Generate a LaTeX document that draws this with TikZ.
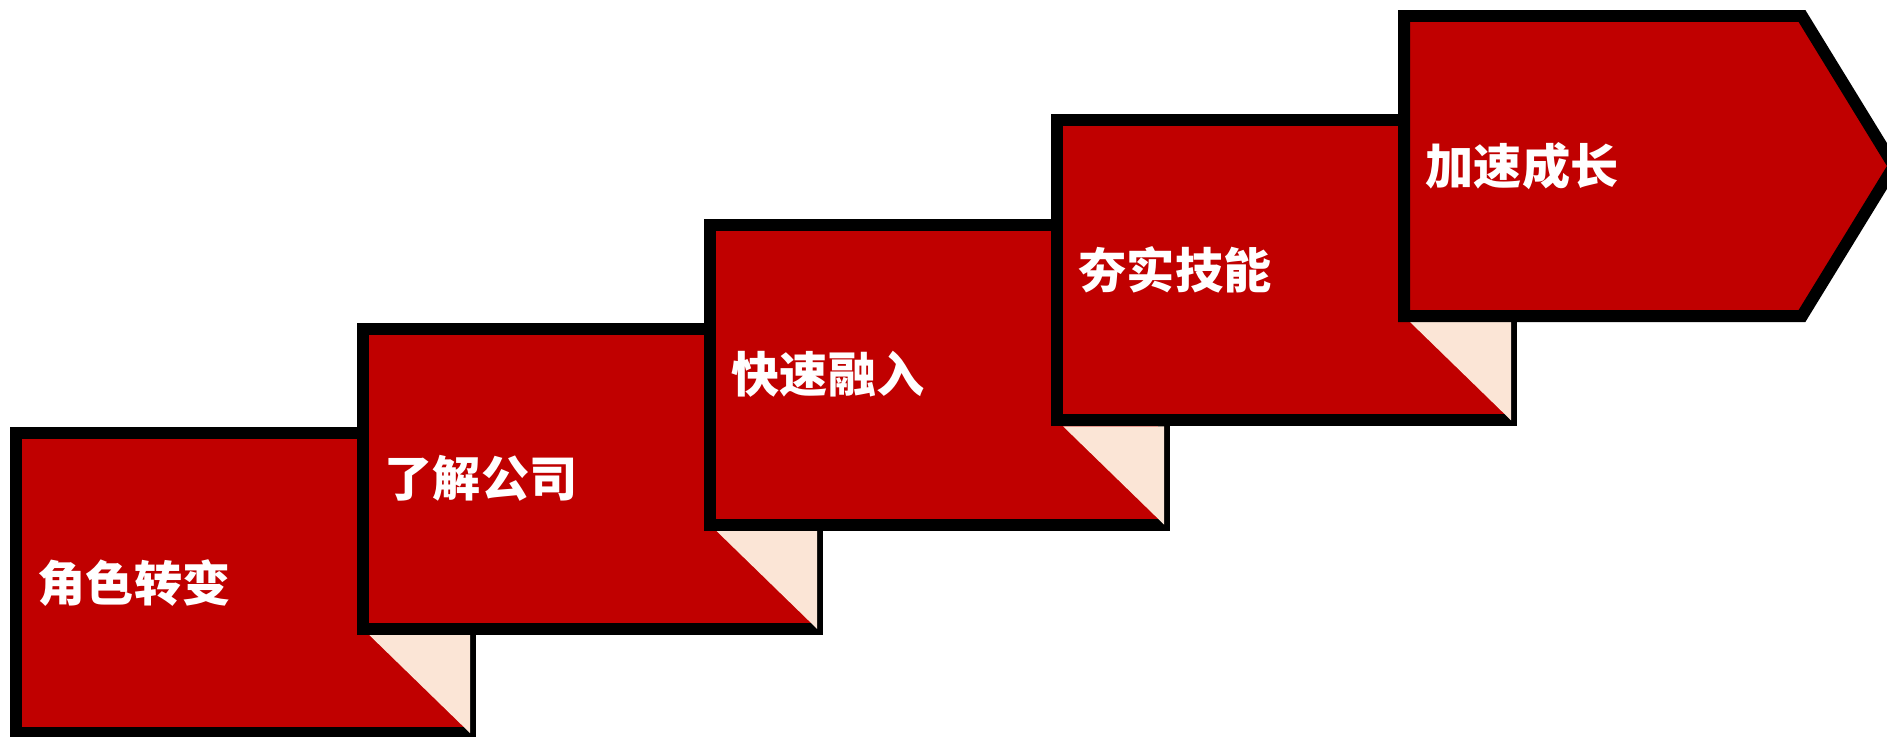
\documentclass[tikz,border=0pt]{standalone}
\usepackage{fontspec}
\newfontfamily\cjk{Noto Sans CJK SC}
\definecolor{stepred}{HTML}{C00000}
\definecolor{foldpeach}{HTML}{FBE5D6}
\begin{document}
\begin{tikzpicture}[x=0.01cm, y=-0.01cm,
    stepbox/.style={fill=stepred, draw=black, line width=3.41pt},
    fold/.style={fill=foldpeach},
    steptext/.style={anchor=west, text=white, inner sep=0pt,
      font=\cjk\bfseries\fontsize{13.7}{16}\selectfont}]
    \useasboundingbox (0,0) rectangle (1887,736);
    \foreach \i/\txt in {0/角色转变,1/了解公司,2/快速融入,3/夯实技能}
      {\pgfmathsetmacro{\L}{10+347*\i}
       \pgfmathsetmacro{\T}{427-104.25*\i}
       \filldraw[stepbox] (\L+6,\T+6) rectangle (\L+460,\T+306);
       \fill[fold] (\L+359,\T+207.75) -- (\L+460,\T+207.75) -- (\L+460,\T+306) -- cycle;
       \node[steptext] (step\i) at (\L+27,\T+156) {\txt};}
    % last step ends in an arrow
    \filldraw[stepbox] (1404,16) -- (1802,16) -- (1894,166) -- (1802,316) -- (1404,316) -- cycle;
    \node[steptext] (step4) at (1425,166) {加速成长};
\end{tikzpicture}
\end{document}
